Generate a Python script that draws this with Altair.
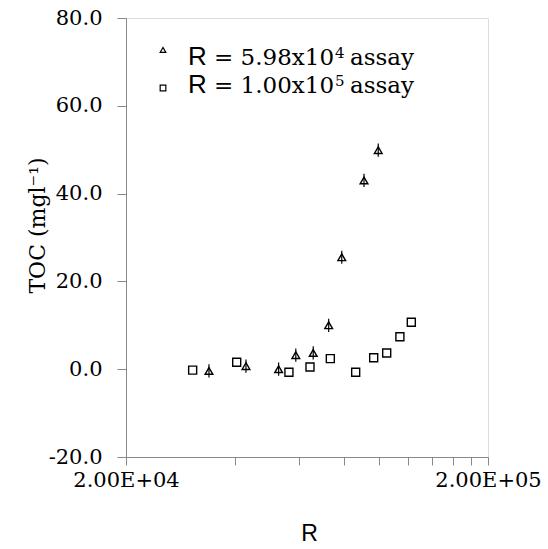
import altair as alt
import pandas as pd

# Data
tri_R = [33900, 42900, 52800, 58900, 65800, 72600, 78900, 90900, 99500]
tri_TOC = [-0.4, 0.7, 0.0, 3.2, 3.7, 10.0, 25.5, 43.0, 49.9]
tri_err = [1.5, 1.5, 1.5, 1.5, 1.5, 1.5, 1.5, 1.5, 1.5]

sq_R = [30560, 40440, 56380, 64460, 73360, 86200, 96660, 105000, 114200, 122800]
sq_TOC = [-0.2, 1.6, -0.7, 0.5, 2.4, -0.7, 2.6, 3.7, 7.4, 10.7]

y_ticks = [-20, 0, 20, 40, 60, 80]
x_ticks = [20000, 40000, 60000, 80000, 100000, 120000, 140000, 160000, 180000, 200000]

legend_base = ["5.98x10", "1.00x10"]
legend_exp = ["4", "5"]

SERIF = "DejaVu Serif, Liberation Serif, serif"
SANS = "Liberation Sans, Arial, sans-serif"

tri = pd.DataFrame({"R": tri_R, "TOC": tri_TOC,
                    "lo": [v - e for v, e in zip(tri_TOC, tri_err)],
                    "hi": [v + e for v, e in zip(tri_TOC, tri_err)]})
sq = pd.DataFrame({"R": sq_R, "TOC": sq_TOC})

xscale = alt.Scale(type="log", domain=[20000, 200000], nice=False)
yscale = alt.Scale(domain=[-20, 80], nice=False, zero=False)

xaxis = alt.Axis(
    values=x_ticks,
    labelExpr="datum.value == 20000 ? '2.00E+04' : (datum.value == 200000 ? '2.00E+05' : '')",
    title="R", titleFont=SANS, titleFontSize=23, titleFontWeight="normal",
    titleX=183, titleY=83, titleBaseline="alphabetic", titleAlign="center",
    labelFont=SERIF, labelFontSize=21, labelPadding=4, tickSize=8,
    labelOverlap=False, labelFlush=False, grid=False,
)
yaxis = alt.Axis(
    values=y_ticks,
    labelExpr="datum.value < 0 ? '-' + format(-datum.value, '.1f') : format(datum.value, '.1f')",
    title="TOC (mgl⁻¹)", titleFont=SERIF, titleFontSize=22, titleFontWeight="normal",
    titleX=-89, titleY=207, titleAngle=270, titleBaseline="middle", titleAlign="center",
    labelFont=SERIF, labelFontSize=21, labelPadding=15, tickSize=9, grid=False,
)

X = alt.X("R:Q", scale=xscale, axis=xaxis)
Y = alt.Y("TOC:Q", scale=yscale, axis=yaxis)

err = alt.Chart(tri).mark_rule(color="black", strokeWidth=1.2).encode(
    x=X, y=alt.Y("lo:Q", scale=yscale, axis=yaxis), y2="hi:Q")
tri_pts = alt.Chart(tri).mark_point(shape="triangle-up", filled=False, color="black",
                                    size=60, strokeWidth=1.4, opacity=1).encode(x=X, y=Y)
sq_pts = alt.Chart(sq).mark_point(shape="square", filled=False, color="black",
                                  size=64, strokeWidth=1.4, opacity=1).encode(x=X, y=Y)

# Legend (drawn inside the plot)
layers = [err, tri_pts, sq_pts]
shapes = ["triangle-up", "square"]
sym_y = [50, 88]
rows_y = [65, 93]
for i in range(2):
    d = pd.DataFrame({"a": [0]})
    sym = alt.Chart(d).mark_point(shape=shapes[i], filled=False, color="black",
                                  size=32, strokeWidth=1.2, opacity=1).encode(
        x=alt.value(163 - 126), y=alt.value(sym_y[i] - 18))
    r = alt.Chart(d).mark_text(text="R", font=SANS, fontSize=26, align="left",
                               baseline="alphabetic", color="black").encode(
        x=alt.value(188 - 126), y=alt.value(rows_y[i] - 18))
    main = alt.Chart(d).mark_text(text="= " + legend_base[i], font=SERIF, fontSize=23,
                                  align="left", baseline="alphabetic", color="black").encode(
        x=alt.value(214 - 126), y=alt.value(rows_y[i] - 18))
    sup = alt.Chart(d).mark_text(text=legend_exp[i], font=SERIF, fontSize=15,
                                 align="left", baseline="alphabetic", color="black").encode(
        x=alt.value(335 - 126), y=alt.value(rows_y[i] - 7 - 18))
    assay = alt.Chart(d).mark_text(text="assay", font=SERIF, fontSize=23,
                                   align="left", baseline="alphabetic", color="black").encode(
        x=alt.value(350 - 126), y=alt.value(rows_y[i] - 18))
    layers += [sym, r, main, sup, assay]

chart = alt.layer(*layers).properties(
    width=362, height=439,
    autosize=alt.AutoSizeParams(type="none"),
    padding={"left": 126, "top": 18, "right": 60, "bottom": 92},
).configure_view(stroke="black", strokeWidth=1.6).configure_axis(
    domainColor="black", tickColor="black", labelColor="black", titleColor="black",
    domainWidth=1.6, tickWidth=1.6,
).configure(background="white")

chart.save("out.html", embed_options={"renderer": "svg", "actions": False})
